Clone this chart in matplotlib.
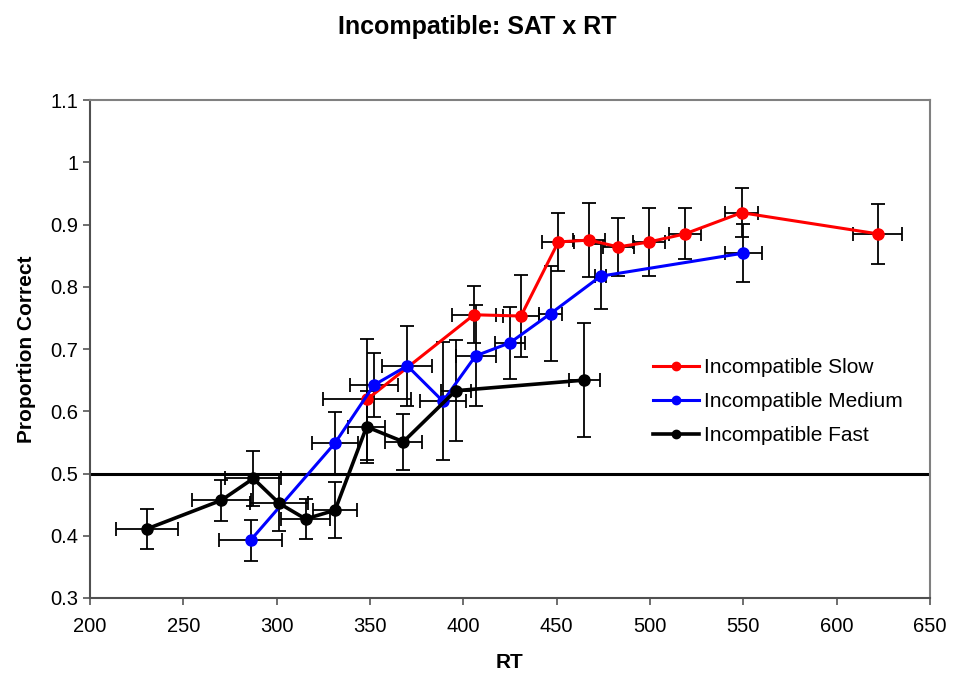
import numpy as np
import matplotlib.pyplot as plt
from matplotlib.ticker import FuncFormatter

plt.rcParams['font.family'] = ['Liberation Sans', 'DejaVu Sans']

# Incompatible Slow
slow_x = [348.4, 405.7, 430.9, 450.9, 467.5, 483.0, 499.6, 518.8, 549.1, 622.0]
slow_y = [0.619, 0.755, 0.753, 0.872, 0.875, 0.864, 0.872, 0.885, 0.919, 0.885]
slow_xerr = [23.5, 12, 9.7, 8.5, 8.5, 8.4, 8.6, 8.6, 9, 13]
slow_yerr = [0.097, 0.046, 0.066, 0.046, 0.059, 0.047, 0.055, 0.041, 0.039, 0.048]

# Incompatible Medium
med_x = [286.1, 331.3, 352.1, 370.0, 389.1, 406.6, 425.0, 446.8, 473.6, 550.0]
med_y = [0.393, 0.549, 0.642, 0.673, 0.616, 0.689, 0.710, 0.757, 0.817, 0.854]
med_xerr = [17, 12.5, 13, 13.4, 12.5, 10.7, 7.8, 6, 3, 10]
med_yerr = [0.033, 0.049, 0.052, 0.064, 0.095, 0.081, 0.058, 0.077, 0.052, 0.047]

# Incompatible Fast
fast_x = [230.5, 270.4, 287.5, 301.4, 315.5, 331.3, 348.2, 367.9, 395.9, 464.8]
fast_y = [0.411, 0.457, 0.492, 0.452, 0.427, 0.441, 0.575, 0.551, 0.633, 0.650]
fast_xerr = [16.5, 16, 15, 15.5, 13, 12, 10, 10, 8, 8.3]
fast_yerr = [0.032, 0.033, 0.044, 0.045, 0.032, 0.045, 0.058, 0.045, 0.081, 0.091]

fig = plt.figure(figsize=(9.54, 6.79), dpi=100)
ax = fig.add_axes([0.0943, 0.1193, 0.8805, 0.7334])

series = [
    (slow_x, slow_y, slow_xerr, slow_yerr, 'red', 'Incompatible Slow', 2.2),
    (med_x, med_y, med_xerr, med_yerr, 'blue', 'Incompatible Medium', 2.2),
    (fast_x, fast_y, fast_xerr, fast_yerr, 'black', 'Incompatible Fast', 2.6),
]

for x, y, xe, ye, c, lab, lw in series:
    ax.errorbar(x, y, xerr=xe, yerr=ye, fmt='none', ecolor='black',
                elinewidth=1.3, capsize=5, capthick=1.3, zorder=2)

for x, y, xe, ye, c, lab, lw in series:
    ax.plot(x, y, color=c, lw=lw, marker='o', markersize=8, label=lab, zorder=3)

ax.axhline(0.5, color='black', lw=2.2, zorder=1)

ax.set_xlim(200, 650)
ax.set_ylim(0.3, 1.1)
ax.set_xticks(np.arange(200, 651, 50))
ax.set_yticks(np.arange(0.3, 1.101, 0.1))
ax.yaxis.set_major_formatter(FuncFormatter(lambda v, p: '%g' % round(v, 2)))
ax.tick_params(labelsize=14.5, direction='out', length=5, width=1.2, color='#555555')
ax.tick_params(axis='x', pad=9)

for s in ax.spines.values():
    s.set_color('#808080')
    s.set_linewidth(1.5)
ax.spines['bottom'].set_color('#505050')
ax.spines['left'].set_color('#505050')

ax.set_xlabel('RT', fontsize=15, fontweight='bold', labelpad=12)
ax.set_ylabel('Proportion Correct', fontsize=15, fontweight='bold', labelpad=10)
fig.suptitle('Incompatible: SAT x RT', fontsize=18, fontweight='bold', y=0.978)

leg = ax.legend(loc='center left', bbox_to_anchor=(0.648, 0.395), frameon=False,
                fontsize=15, handlelength=2.2, labelspacing=0.72,
                handletextpad=0.25, markerscale=0.75)

fig.savefig('out.png', dpi=100)
